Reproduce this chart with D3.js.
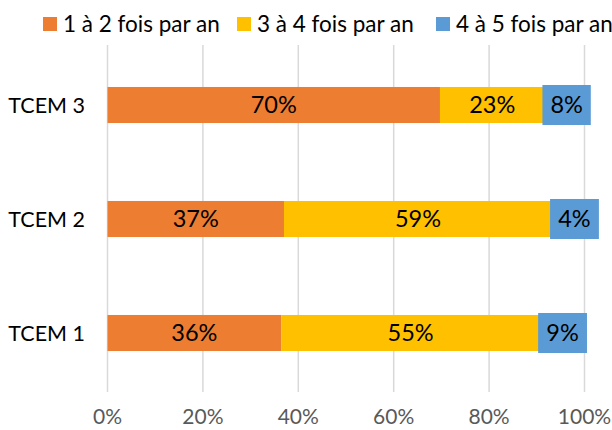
<!DOCTYPE html>
<html>
<head>
<meta charset="utf-8">
<script src="https://cdn.jsdelivr.net/npm/d3@7"></script>
<style>
  html, body { margin: 0; padding: 0; background: #fff; }
  svg text { font-family: Lato, "Liberation Sans", sans-serif; }
</style>
</head>
<body>
<svg id="chart" width="612" height="430"></svg>
<script>
// --- data (bottom to top as in the source) ---
const categories = ["TCEM 1", "TCEM 2", "TCEM 3"];
const seriesNames = ["1 à 2 fois par an", "3 à 4 fois par an", "4 à 5 fois par an"];
const seriesColors = ["#ED7D31", "#FFC000", "#5B9BD5"];
// segment lengths as drawn (the printed labels don't add up to the bars)
const share12 = [36.4, 37.0, 69.7];
const share34 = [54.3, 56.2, 21.9];
const share45 = [9.4, 9.4, 9.3];
// data labels as printed on the bars
const label12 = ["36%", "37%", "70%"];
const label34 = ["55%", "59%", "23%"];
const label45 = ["9%", "4%", "8%"];
const xTicks = [0, 20, 40, 60, 80, 100];

const svg = d3.select("#chart");
const margin = { left: 107.5, right: 27.5, top: 48, bottom: 40 };
const W = 612, H = 430;

const x = d3.scaleLinear().domain([0, 100]).range([margin.left, W - margin.right]);
const y = d3.scaleBand()
    .domain(categories.slice().reverse())
    .range([margin.top, H - margin.bottom])
    .paddingInner(0.684)
    .paddingOuter(0.342);

// gridlines
svg.append("g")
    .selectAll("line")
    .data(xTicks)
    .join("line")
    .attr("x1", d => x(d)).attr("x2", d => x(d))
    .attr("y1", 45).attr("y2", 392)
    .attr("stroke", "#d9d9d9")
    .attr("stroke-width", 1.5);

// x tick labels
svg.append("g")
    .selectAll("text")
    .data(xTicks)
    .join("text")
    .attr("x", d => x(d))
    .attr("y", 424)
    .attr("text-anchor", "middle")
    .attr("fill", "#595959")
    .style("font-size", "21px")
    .text(d => d + "%");

// category labels
svg.append("g")
    .selectAll("text")
    .data(categories)
    .join("text")
    .attr("x", 85)
    .attr("y", d => y(d) + y.bandwidth() / 2)
    .attr("dy", "0.35em")
    .attr("text-anchor", "end")
    .attr("fill", "#000")
    .style("font-size", "21.5px")
    .text(d => d);

// stacked segments
const shares = [share12, share34, share45];
const labels = [label12, label34, label45];
const rows = categories.map((c, i) => {
    let acc = 0;
    return shares.map((s, k) => {
        const seg = { cat: c, k, x0: acc, x1: acc + s[i], label: labels[k][i] };
        acc += s[i];
        return seg;
    });
}).flat();

const segG = svg.append("g");
segG.selectAll("rect")
    .data(rows)
    .join("rect")
    .attr("x", d => x(d.x0))
    .attr("y", d => y(d.cat))
    .attr("width", d => x(d.x1) - x(d.x0))
    .attr("height", y.bandwidth())
    .attr("fill", d => seriesColors[d.k])
    // the blue series carries a thick outline of its own colour
    .attr("stroke", d => d.k === 2 ? seriesColors[2] : "none")
    .attr("stroke-width", d => d.k === 2 ? 4 : 0);

segG.selectAll("text")
    .data(rows)
    .join("text")
    .attr("x", d => (x(d.x0) + x(d.x1)) / 2)
    .attr("y", d => y(d.cat) + y.bandwidth() / 2)
    .attr("dy", "0.36em")
    .attr("text-anchor", "middle")
    .attr("fill", "#000")
    .style("font-size", "23.5px")
    .text(d => d.label);

// legend
const legendX = [43, 237, 436];
const legend = svg.append("g")
    .selectAll("g")
    .data(seriesNames)
    .join("g")
    .attr("transform", (d, i) => `translate(${legendX[i]},17)`);

legend.append("rect")
    .attr("width", 14).attr("height", 14)
    .attr("fill", (d, i) => seriesColors[i]);

legend.append("text")
    .attr("x", 20)
    .attr("y", 7)
    .attr("dy", "0.36em")
    .attr("fill", "#000")
    .style("font-size", "22.5px")
    .text(d => d);
</script>
</body>
</html>
